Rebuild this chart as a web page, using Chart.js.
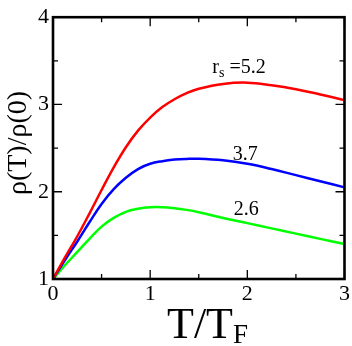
<!DOCTYPE html>
<html><head><meta charset="utf-8">
<script src="https://cdn.jsdelivr.net/npm/chart.js@4"></script>
<style>html,body{margin:0;padding:0;background:#fff}#wrap{width:352px;height:346px}</style>
</head><body><div id="wrap"><canvas id="c"></canvas></div>
<script>
const tValues = [0, 0.125, 0.25, 0.375, 0.5, 0.625, 0.75, 0.875, 1.0, 1.125, 1.25, 1.375, 1.5, 1.75, 2.0, 2.25, 2.5, 2.75, 3.0];
const rho52 = [1, 1.25, 1.49, 1.75, 2.02, 2.28, 2.51, 2.70, 2.85, 2.97, 3.06, 3.13, 3.18, 3.235, 3.25, 3.22, 3.175, 3.115, 3.05];
const rho37 = [1, 1.22, 1.43, 1.65, 1.86, 2.03, 2.16, 2.26, 2.32, 2.35, 2.368, 2.376, 2.378, 2.36, 2.32, 2.26, 2.19, 2.12, 2.05];
const rho26 = [1, 1.16, 1.31, 1.46, 1.60, 1.70, 1.77, 1.805, 1.822, 1.823, 1.812, 1.792, 1.765, 1.70, 1.64, 1.58, 1.52, 1.46, 1.40];
const seriesNames = ['5.2', '3.7', '2.6'];
const xTickLabels = ['0', '1', '2', '3'];
const yTickLabels = ['1', '2', '3', '4'];
const labelAnchors = [[1.64, 3.36], [1.85, 2.36], [1.86, 1.735]];

const serif = '"Liberation Serif", "Times New Roman", serif';
const colors = ['#ff0000', '#0000ff', '#00ff00'];
const mk = (arr) => tValues.map((x, i) => ({x, y: arr[i]}));

const decor = {
  id: 'decor',
  afterDraw(chart) {
    const ctx = chart.ctx, a = chart.chartArea;
    const xs = chart.scales.x, ys = chart.scales.y;
    ctx.save();
    ctx.strokeStyle = '#000';
    ctx.lineWidth = 1.3;
    for (let v = 0; v <= 3.0001; v += 0.5) {
      const px = xs.getPixelForValue(v);
      const len = Math.abs(v - Math.round(v)) < 1e-6 ? 9 : 5;
      ctx.beginPath();
      ctx.moveTo(px, a.bottom); ctx.lineTo(px, a.bottom - len);
      ctx.moveTo(px, a.top); ctx.lineTo(px, a.top + len);
      ctx.stroke();
    }
    for (let v = 1; v <= 4.0001; v += 0.5) {
      const py = ys.getPixelForValue(v);
      const len = Math.abs(v - Math.round(v)) < 1e-6 ? 9 : 5;
      ctx.beginPath();
      ctx.moveTo(a.left, py); ctx.lineTo(a.left + len, py);
      ctx.moveTo(a.right, py); ctx.lineTo(a.right - len, py);
      ctx.stroke();
    }
    ctx.lineWidth = 2.6;
    ctx.strokeRect(a.left, a.top, a.right - a.left, a.bottom - a.top);
    ctx.fillStyle = '#000';
    ctx.textBaseline = 'alphabetic';
    ctx.textAlign = 'left';
    labelAnchors.forEach((p, i) => {
      let x = xs.getPixelForValue(p[0]);
      const y = ys.getPixelForValue(p[1]);
      if (i === 0) {
        ctx.font = '20px ' + serif;
        ctx.fillText('r', x, y); x += ctx.measureText('r').width;
        ctx.font = '14px ' + serif;
        ctx.fillText('s', x, y + 4); x += ctx.measureText('s').width;
        ctx.font = '20px ' + serif;
        ctx.fillText(' =' + seriesNames[i], x, y);
      } else {
        ctx.font = '20px ' + serif;
        ctx.fillText(seriesNames[i], x, y);
      }
    });
    let tx = a.left + 114, ty = 338;
    ctx.font = '44px ' + serif;
    ctx.fillText('T/T', tx, ty);
    tx += ctx.measureText('T/T').width;
    ctx.font = '27px ' + serif;
    ctx.fillText('F', tx, ty + 5);
    ctx.translate(26, 143);
    ctx.rotate(-Math.PI / 2);
    ctx.textAlign = 'center';
    ctx.font = '28px ' + serif;
    ctx.fillText('ρ(T)/ρ(0)', 0, 0);
    ctx.restore();
  }
};

new Chart(document.getElementById('c'), {
  type: 'line',
  data: {
    datasets: [rho52, rho37, rho26].map((arr, i) => ({
      label: seriesNames[i],
      data: mk(arr),
      borderColor: colors[i],
      borderWidth: 2.5,
      pointRadius: 0,
      fill: false,
      tension: 0.4
    }))
  },
  options: {
    responsive: true,
    maintainAspectRatio: false,
    animation: false,
    devicePixelRatio: 1,
    layout: {padding: {top: 10, right: 7, left: 0, bottom: 0}},
    plugins: {legend: {display: false}, tooltip: {enabled: false}},
    scales: {
      x: {
        type: 'linear', min: 0, max: 3,
        grid: {display: false, drawTicks: false},
        border: {display: false},
        afterFit: s => { s.height = 67; },
        ticks: {
          stepSize: 0.5, padding: 2, color: '#000', maxRotation: 0,
          font: {family: serif, size: 22},
          callback: v => Number.isInteger(v) ? xTickLabels[v] : ''
        }
      },
      y: {
        type: 'linear', min: 1, max: 4,
        grid: {display: false, drawTicks: false},
        border: {display: false},
        afterFit: s => { s.width = 53; },
        ticks: {
          stepSize: 0.5, padding: 4, color: '#000',
          font: {family: serif, size: 22},
          callback: v => Number.isInteger(v) ? yTickLabels[v - 1] : ''
        }
      }
    }
  },
  plugins: [decor]
});
</script></body></html>
